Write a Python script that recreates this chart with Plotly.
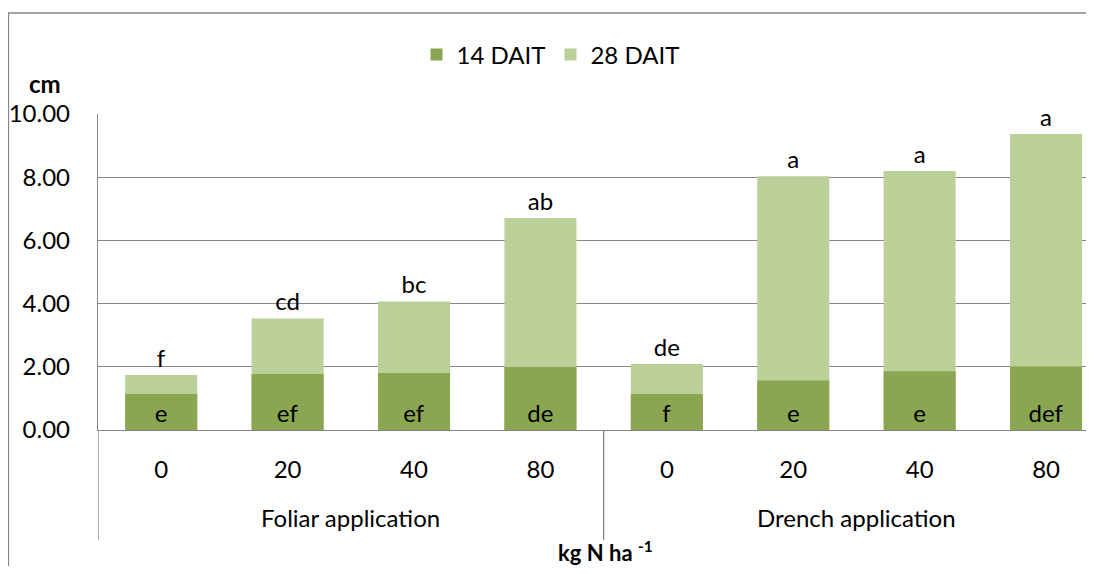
import plotly.graph_objects as go

# data
methods = ["Foliar application"] * 4 + ["Drench application"] * 4
doses = ["0", "20", "40", "80", "0", "20", "40", "80"]
dait14 = [1.14, 1.77, 1.80, 1.99, 1.14, 1.57, 1.86, 2.01]
dait28 = [1.74, 3.53, 4.07, 6.71, 2.09, 8.03, 8.20, 9.37]
letters14 = ["e", "ef", "ef", "de", "f", "e", "e", "def"]
letters28 = ["f", "cd", "bc", "ab", "de", "a", "a", "a"]

FONT = "Lato, Calibri, sans-serif"
GRID = "#868686"
DARK = "#8BA650"
LIGHT = "#BBCF99"
FS = 24

pos = list(range(len(doses)))

fig = go.Figure()

# 28 DAIT drawn behind, 14 DAIT overlaid in front
fig.add_trace(go.Bar(
    x=pos, y=dait28, name="28 DAIT",
    marker=dict(color=LIGHT, line=dict(width=0)),
    text=letters28, textposition="outside", cliponaxis=False,
    textfont=dict(size=FS, color="black", family=FONT),
    width=0.57, legendrank=2,
))
fig.add_trace(go.Bar(
    x=pos, y=dait14, name="14 DAIT",
    marker=dict(color=DARK, line=dict(width=0)),
    text=letters14, textposition="inside", insidetextanchor="start",
    constraintext="none",
    textfont=dict(size=FS, color="black", family=FONT),
    width=0.57, legendrank=1,
))

fig.update_layout(
    width=1078, height=558,
    margin=dict(l=90, r=0, t=106, b=136),
    barmode="overlay",
    paper_bgcolor="white", plot_bgcolor="white",
    font=dict(family=FONT, size=FS, color="black"),
    showlegend=True,
    legend=dict(orientation="h", x=0.458, xanchor="center", y=1.187, yanchor="middle",
                font=dict(size=FS), itemwidth=30),
)

fig.update_yaxes(
    range=[0, 10], dtick=2, tickformat=".2f",
    showgrid=True, gridcolor=GRID, gridwidth=1.3,
    showline=True, linecolor=GRID, linewidth=1.3,
    zeroline=False, ticks="", ticklabelstandoff=22,
    tickfont=dict(size=FS),
)
fig.update_xaxes(
    range=[-0.5, 7.316], tickvals=pos, ticktext=doses,
    showgrid=False, zeroline=False,
    showline=True, linecolor=GRID, linewidth=1.3,
    ticks="", ticklabelstandoff=18, tickfont=dict(size=FS),
)

# group labels and dividers of the two-level category axis
groups = []
for i, m in enumerate(methods):
    if not groups or groups[-1][0] != m:
        groups.append([m, i, i])
    else:
        groups[-1][2] = i
for name, a, b in groups:
    fig.add_annotation(text=name, x=(a + b) / 2, xref="x", y=-0.278, yref="paper",
                       showarrow=False, font=dict(size=FS), xanchor="center", yanchor="middle")
    fig.add_shape(type="line", xref="x", yref="paper", x0=a - 0.5, x1=a - 0.5,
                  y0=0, y1=-0.348, line=dict(color=GRID, width=1.3))

# outer chart frame and axis titles
fig.add_shape(type="rect", xref="paper", yref="paper",
              x0=-0.0906, x1=1.2, y0=-1.0, y1=1.3196,
              line=dict(color=GRID, width=1.3), fillcolor="rgba(0,0,0,0)", layer="below")
fig.add_annotation(text="<b>cm</b>", xref="paper", yref="paper", x=-0.0536, y=1.098,
                   showarrow=False, font=dict(size=FS), xanchor="center", yanchor="middle")
fig.add_annotation(text="<b>kg N ha <sup>-1</sup></b>", xref="paper", yref="paper",
                   x=0.514, y=-0.386, showarrow=False, font=dict(size=22),
                   xanchor="center", yanchor="middle")

fig.write_html("out.html")
